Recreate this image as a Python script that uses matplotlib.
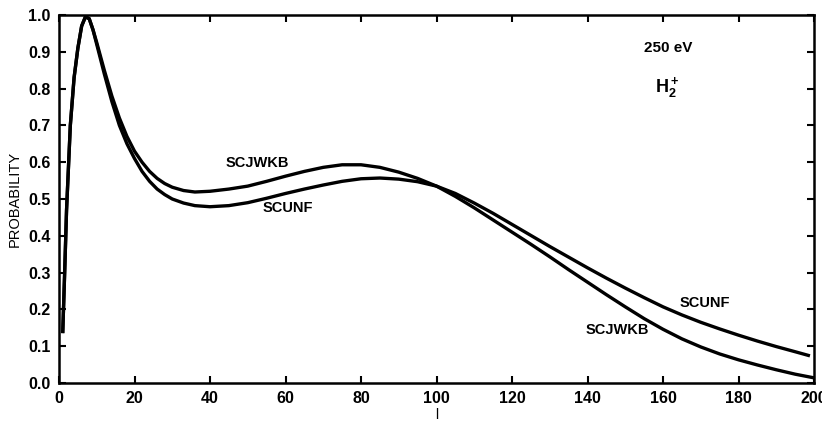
import matplotlib
matplotlib.use("Agg")
from matplotlib import pyplot as plt

# values
l_jwkb = [1, 1.5, 2, 3, 4, 5, 6, 7, 8, 9, 10, 12, 14, 16, 18, 20, 22, 24, 26, 28,
          30, 33, 36, 40, 45, 50, 55, 60, 65, 70, 75, 80, 85, 90, 95, 100, 105,
          110, 115, 120, 125, 130, 135, 140, 145, 150, 155, 160, 165, 170, 175,
          180, 185, 190, 195, 200]
p_jwkb = [0.14, 0.30, 0.47, 0.70, 0.83, 0.91, 0.97, 0.995, 0.99, 0.96, 0.925,
          0.85, 0.78, 0.72, 0.67, 0.63, 0.60, 0.575, 0.556, 0.542, 0.532, 0.523,
          0.519, 0.521, 0.527, 0.535, 0.548, 0.562, 0.575, 0.586, 0.593, 0.593,
          0.586, 0.573, 0.556, 0.535, 0.507, 0.476, 0.443, 0.41, 0.377, 0.343,
          0.308, 0.274, 0.24, 0.207, 0.175, 0.146, 0.12, 0.098, 0.079, 0.063,
          0.049, 0.036, 0.024, 0.014]

l_unf = [1, 1.5, 2, 3, 4, 5, 6, 7, 8, 9, 10, 12, 14, 16, 18, 20, 22, 24, 26, 28,
         30, 33, 36, 40, 45, 50, 55, 60, 65, 70, 75, 80, 85, 90, 95, 100, 105,
         110, 115, 120, 125, 130, 135, 140, 145, 150, 155, 160, 165, 170, 175,
         180, 185, 190, 195, 198.5]
p_unf = [0.14, 0.30, 0.47, 0.70, 0.83, 0.91, 0.97, 0.995, 0.99, 0.96, 0.92,
         0.84, 0.765, 0.70, 0.65, 0.61, 0.575, 0.548, 0.527, 0.512, 0.50, 0.489,
         0.482, 0.479, 0.482, 0.49, 0.502, 0.515, 0.527, 0.538, 0.548, 0.555,
         0.557, 0.554, 0.547, 0.535, 0.515, 0.489, 0.461, 0.431, 0.401, 0.371,
         0.342, 0.313, 0.285, 0.258, 0.232, 0.207, 0.185, 0.165, 0.147, 0.13,
         0.114, 0.099, 0.085, 0.075]

xticks = list(range(0, 201, 20))
yticks = [i / 10 for i in range(11)]

plt.rcParams['font.family'] = ['Liberation Sans', 'DejaVu Sans']
plt.rcParams['font.weight'] = 'bold'
plt.rcParams['mathtext.fontset'] = 'custom'
plt.rcParams['mathtext.rm'] = 'Liberation Sans'
plt.rcParams['mathtext.bf'] = 'Liberation Sans:bold'

fig = plt.figure(figsize=(8.22, 4.25), dpi=100)
ax = fig.add_axes([59 / 822, 42 / 425, 755 / 822, 368 / 425])

ax.plot(l_jwkb, p_jwkb, color='black', lw=2.4, solid_joinstyle='round')
ax.plot(l_unf, p_unf, color='black', lw=2.4, solid_joinstyle='round')

ax.set_xlim(0, 200)
ax.set_ylim(0, 1.0)
ax.set_xticks(xticks)
ax.set_yticks(yticks)
ax.set_yticklabels(['%.1f' % v for v in yticks])
ax.tick_params(direction='in', length=5, width=1.5, labelsize=11.5,
               top=True, right=True, pad=6)
for s in ax.spines.values():
    s.set_linewidth(1.8)

ax.set_ylabel('PROBABILITY', fontsize=10.5, labelpad=5, fontweight='normal')
ax.set_xlabel('l', fontsize=10, labelpad=1)

ax.text(44, 0.587, 'SCJWKB', fontsize=10.5)
ax.text(54, 0.465, 'SCUNF', fontsize=10.5)
ax.text(164.5, 0.207, 'SCUNF', fontsize=10.5)
ax.text(139.5, 0.132, 'SCJWKB', fontsize=10.5)
ax.text(155, 0.9, '250 eV', fontsize=11)
ax.text(158, 0.79, r'H$_2^+$', fontsize=13)

fig.savefig('out.png', dpi=100)
